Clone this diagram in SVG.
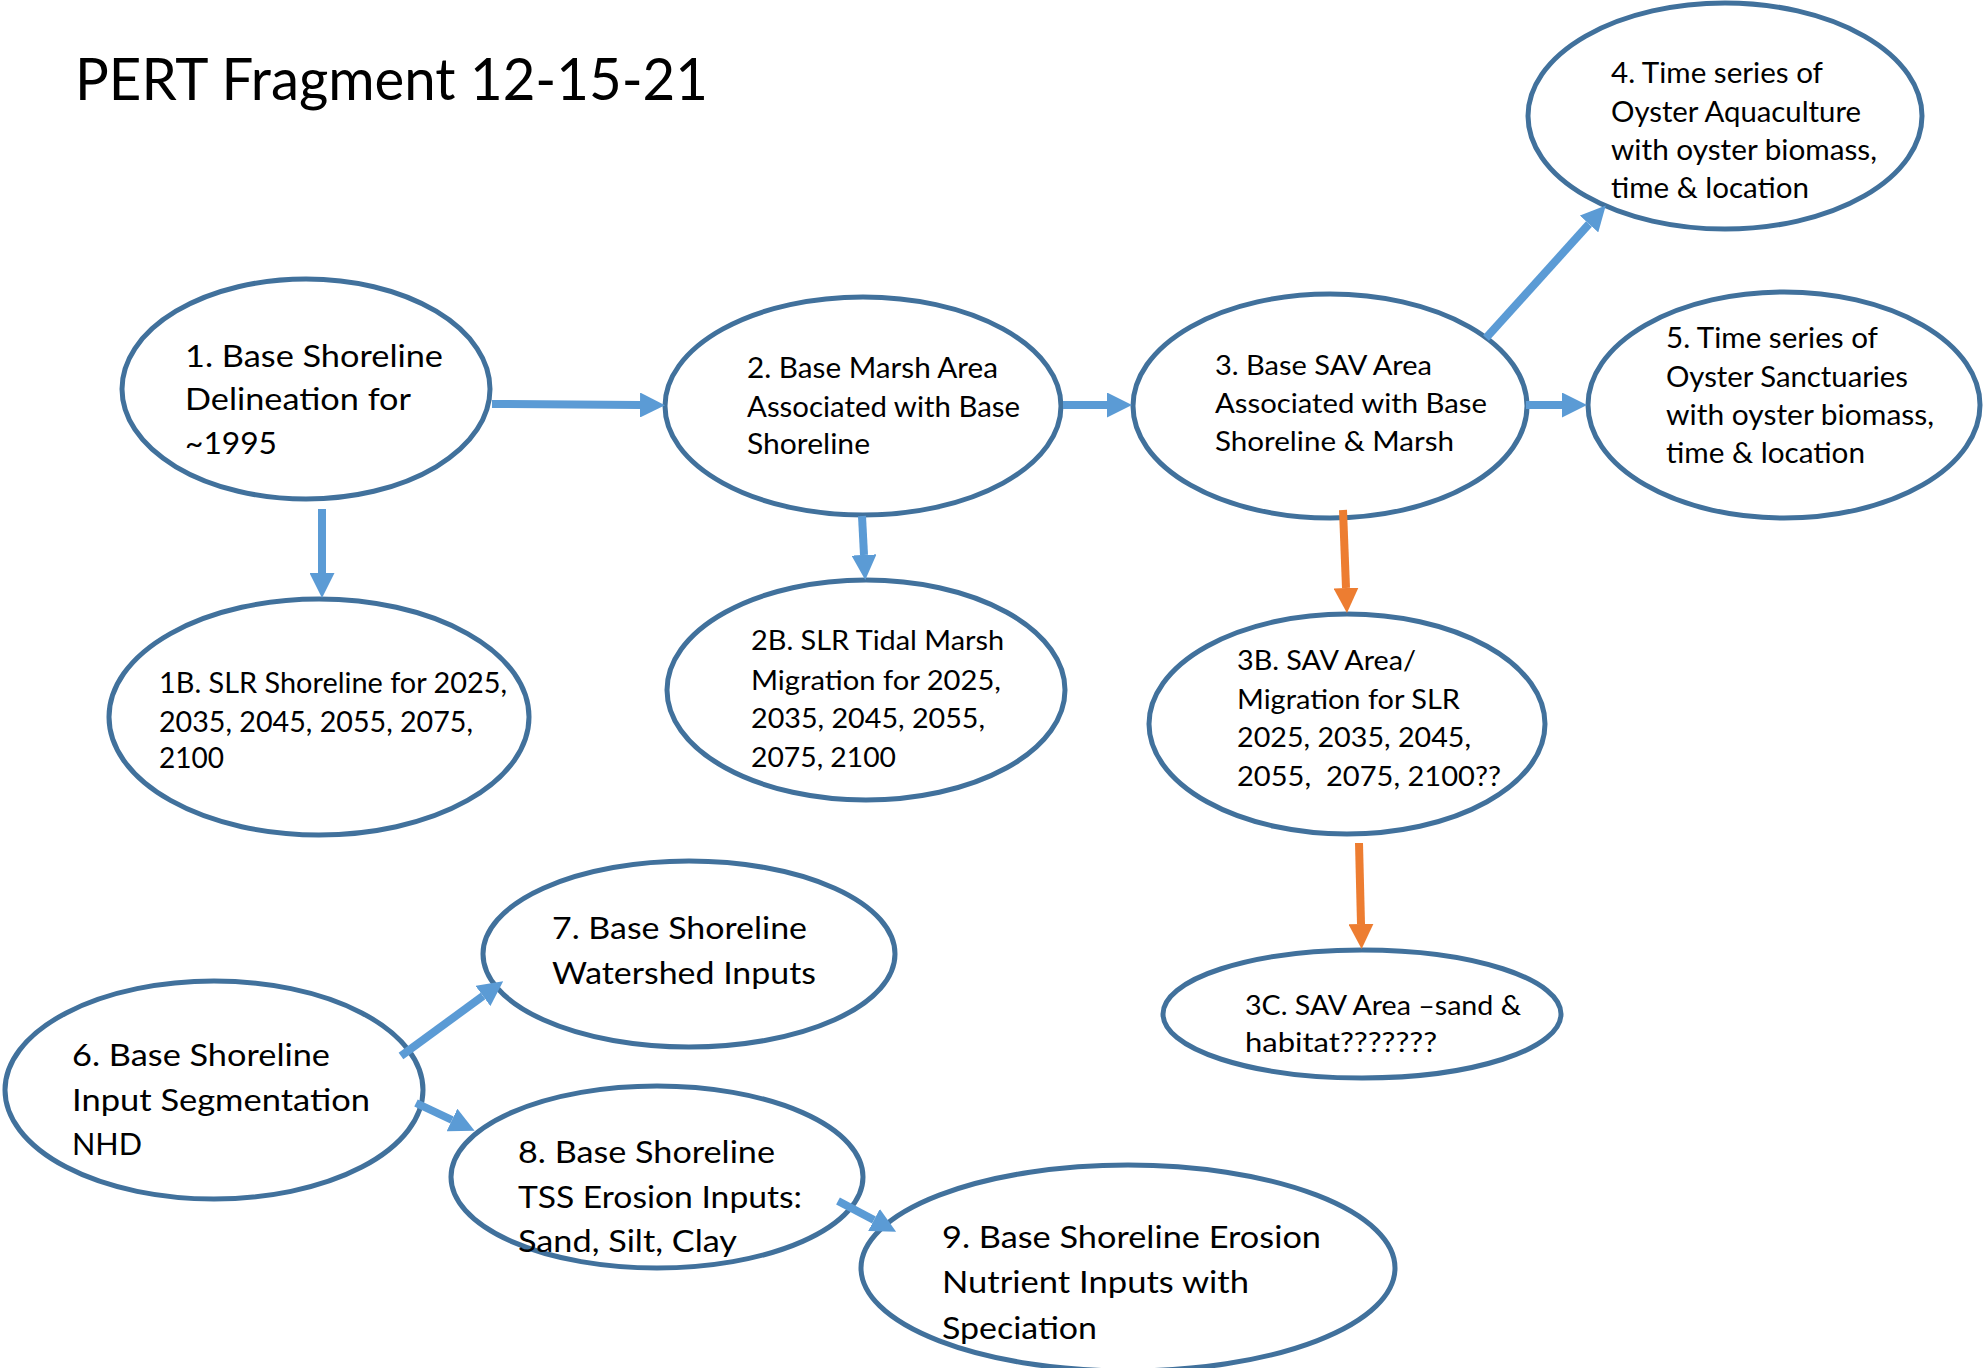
<svg xmlns="http://www.w3.org/2000/svg" width="1985" height="1368" viewBox="0 0 1985 1368">
<style>
.n{fill:#ffffff;stroke:#41719C;stroke-width:5}
.t{font-family:Lato,"Liberation Sans",sans-serif;fill:#000;white-space:pre}
.c{stroke-width:8;fill:none}
.b{stroke:#5B9BD5}
.o{stroke:#ED7D31}
</style>
<defs>
<marker id="hb" markerWidth="25" markerHeight="25" refX="0" refY="12.5" orient="auto" markerUnits="userSpaceOnUse"><path d="M0,0 L25,12.5 L0,25 z" fill="#5B9BD5"/></marker>
<marker id="ho" markerWidth="25" markerHeight="25" refX="0" refY="12.5" orient="auto" markerUnits="userSpaceOnUse"><path d="M0,0 L25,12.5 L0,25 z" fill="#ED7D31"/></marker>
</defs>
<rect width="1985" height="1368" fill="#ffffff"/>
<text class="t" x="75" y="100" font-size="58" textLength="633" lengthAdjust="spacingAndGlyphs">PERT Fragment 12-15-21</text>

<g id="node1">
<ellipse class="n" cx="306" cy="389" rx="184" ry="110"/>
<text class="t" font-size="30"><tspan x="185" y="367" textLength="258" lengthAdjust="spacingAndGlyphs">1. Base Shoreline</tspan><tspan x="185" y="410" textLength="226" lengthAdjust="spacingAndGlyphs">Delineation for</tspan><tspan x="185" y="454" textLength="92" lengthAdjust="spacingAndGlyphs">~1995</tspan></text>
</g>
<g id="node2">
<ellipse class="n" cx="863" cy="406" rx="198" ry="109"/>
<text class="t" font-size="28"><tspan x="747" y="378" textLength="251" lengthAdjust="spacingAndGlyphs">2. Base Marsh Area</tspan><tspan x="747" y="417" textLength="273" lengthAdjust="spacingAndGlyphs">Associated with Base</tspan><tspan x="747" y="454" textLength="123" lengthAdjust="spacingAndGlyphs">Shoreline</tspan></text>
</g>
<g id="node3">
<ellipse class="n" cx="1330" cy="406" rx="197" ry="112"/>
<text class="t" font-size="27"><tspan x="1215" y="375" textLength="217" lengthAdjust="spacingAndGlyphs">3. Base SAV Area</tspan><tspan x="1215" y="413" textLength="272" lengthAdjust="spacingAndGlyphs">Associated with Base</tspan><tspan x="1215" y="451" textLength="239" lengthAdjust="spacingAndGlyphs">Shoreline &amp; Marsh</tspan></text>
</g>
<g id="node4">
<ellipse class="n" cx="1725" cy="116" rx="197" ry="113"/>
<text class="t" font-size="28"><tspan x="1611" y="83" textLength="212" lengthAdjust="spacingAndGlyphs">4. Time series of</tspan><tspan x="1611" y="122" textLength="250" lengthAdjust="spacingAndGlyphs">Oyster Aquaculture</tspan><tspan x="1611" y="160" textLength="266" lengthAdjust="spacingAndGlyphs">with oyster biomass,</tspan><tspan x="1611" y="198" textLength="198" lengthAdjust="spacingAndGlyphs">time &amp; location</tspan></text>
</g>
<g id="node5">
<ellipse class="n" cx="1784" cy="405" rx="196" ry="113"/>
<text class="t" font-size="28"><tspan x="1666" y="348" textLength="212" lengthAdjust="spacingAndGlyphs">5. Time series of</tspan><tspan x="1666" y="387" textLength="242" lengthAdjust="spacingAndGlyphs">Oyster Sanctuaries</tspan><tspan x="1666" y="425" textLength="268" lengthAdjust="spacingAndGlyphs">with oyster biomass,</tspan><tspan x="1666" y="463" textLength="199" lengthAdjust="spacingAndGlyphs">time &amp; location</tspan></text>
</g>
<g id="node1B">
<ellipse class="n" cx="319" cy="717" rx="210" ry="118"/>
<text class="t" font-size="28"><tspan x="159" y="693" textLength="348" lengthAdjust="spacingAndGlyphs">1B. SLR Shoreline for 2025,</tspan><tspan x="159" y="732" textLength="314" lengthAdjust="spacingAndGlyphs">2035, 2045, 2055, 2075,</tspan><tspan x="159" y="768" textLength="65" lengthAdjust="spacingAndGlyphs">2100</tspan></text>
</g>
<g id="node2B">
<ellipse class="n" cx="866" cy="690" rx="199" ry="110"/>
<text class="t" font-size="27"><tspan x="751" y="650" textLength="253" lengthAdjust="spacingAndGlyphs">2B. SLR Tidal Marsh</tspan><tspan x="751" y="690" textLength="250" lengthAdjust="spacingAndGlyphs">Migration for 2025,</tspan><tspan x="751" y="728" textLength="234" lengthAdjust="spacingAndGlyphs">2035, 2045, 2055,</tspan><tspan x="751" y="767" textLength="145" lengthAdjust="spacingAndGlyphs">2075, 2100</tspan></text>
</g>
<g id="node3B">
<ellipse class="n" cx="1347" cy="724" rx="198" ry="110"/>
<text class="t" font-size="27"><tspan x="1237" y="670" textLength="179" lengthAdjust="spacingAndGlyphs">3B. SAV Area/</tspan><tspan x="1237" y="709" textLength="223" lengthAdjust="spacingAndGlyphs">Migration for SLR</tspan><tspan x="1237" y="747" textLength="234" lengthAdjust="spacingAndGlyphs">2025, 2035, 2045,</tspan><tspan x="1237" y="786" textLength="264" lengthAdjust="spacingAndGlyphs">2055,  2075, 2100??</tspan></text>
</g>
<g id="node3C">
<ellipse class="n" cx="1362" cy="1014" rx="199" ry="64"/>
<text class="t" font-size="27"><tspan x="1245" y="1015" textLength="276" lengthAdjust="spacingAndGlyphs">3C. SAV Area –sand &amp;</tspan><tspan x="1245" y="1052" textLength="192" lengthAdjust="spacingAndGlyphs">habitat???????</tspan></text>
</g>
<g id="node7">
<ellipse class="n" cx="689" cy="954" rx="206" ry="93"/>
<text class="t" font-size="31"><tspan x="552" y="939" textLength="255" lengthAdjust="spacingAndGlyphs">7. Base Shoreline</tspan><tspan x="552" y="984" textLength="264" lengthAdjust="spacingAndGlyphs">Watershed Inputs</tspan></text>
</g>
<g id="node6">
<ellipse class="n" cx="214" cy="1090" rx="209" ry="109"/>
<text class="t" font-size="31"><tspan x="72" y="1066" textLength="258" lengthAdjust="spacingAndGlyphs">6. Base Shoreline</tspan><tspan x="72" y="1111" textLength="298" lengthAdjust="spacingAndGlyphs">Input Segmentation</tspan><tspan x="72" y="1155" textLength="70" lengthAdjust="spacingAndGlyphs">NHD</tspan></text>
</g>
<g id="node8">
<ellipse class="n" cx="657" cy="1177" rx="206" ry="91"/>
<text class="t" font-size="30"><tspan x="518" y="1163" textLength="257" lengthAdjust="spacingAndGlyphs">8. Base Shoreline</tspan><tspan x="518" y="1208" textLength="284" lengthAdjust="spacingAndGlyphs">TSS Erosion Inputs:</tspan><tspan x="518" y="1252" textLength="219" lengthAdjust="spacingAndGlyphs">Sand, Silt, Clay</tspan></text>
</g>
<g id="node9">
<ellipse class="n" cx="1128" cy="1268" rx="267" ry="103"/>
<text class="t" font-size="31"><tspan x="942" y="1248" textLength="379" lengthAdjust="spacingAndGlyphs">9. Base Shoreline Erosion</tspan><tspan x="942" y="1293" textLength="307" lengthAdjust="spacingAndGlyphs">Nutrient Inputs with</tspan><tspan x="942" y="1339" textLength="155" lengthAdjust="spacingAndGlyphs">Speciation</tspan></text>
</g>

<g id="connectors">
<line class="c b" x1="492" y1="404" x2="640" y2="405" marker-end="url(#hb)"/>
<line class="c b" x1="322" y1="509" x2="322" y2="573" marker-end="url(#hb)"/>
<line class="c b" x1="1063" y1="405" x2="1107" y2="405" marker-end="url(#hb)"/>
<line class="c b" x1="862" y1="516" x2="864" y2="555" marker-end="url(#hb)"/>
<line class="c b" x1="1486" y1="338" x2="1589" y2="224" marker-end="url(#hb)"/>
<line class="c b" x1="1526" y1="405" x2="1562" y2="405" marker-end="url(#hb)"/>
<line class="c o" x1="1343" y1="510" x2="1346" y2="588" marker-end="url(#ho)"/>
<line class="c o" x1="1359" y1="843" x2="1361" y2="924" marker-end="url(#ho)"/>
<line class="c b" x1="401" y1="1056" x2="483" y2="996" marker-end="url(#hb)"/>
<line class="c b" x1="416" y1="1103" x2="452" y2="1120" marker-end="url(#hb)"/>
<line class="c b" x1="838" y1="1201" x2="874" y2="1220" marker-end="url(#hb)"/>
</g>
</svg>
